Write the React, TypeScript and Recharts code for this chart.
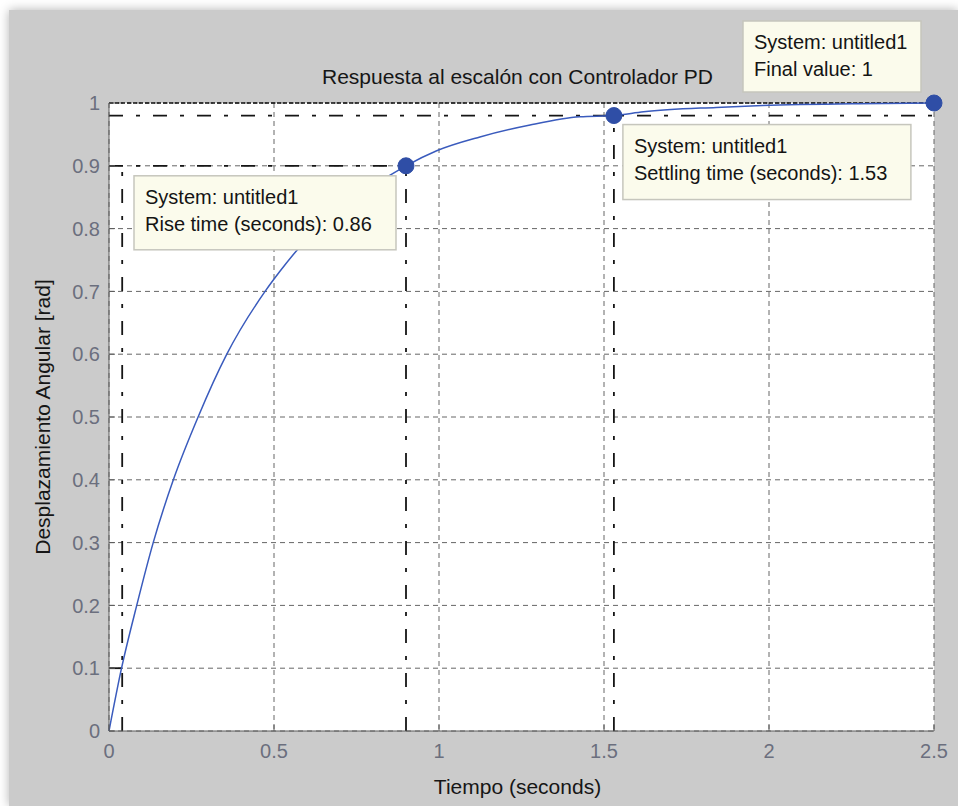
import {
  LineChart,
  Line,
  XAxis,
  YAxis,
  CartesianGrid,
  ReferenceLine,
  ReferenceDot,
} from 'recharts';

// step response samples
const timeS = [
  0, 0.038, 0.084, 0.134, 0.195, 0.27, 0.357, 0.473, 0.518, 0.567, 0.852, 0.9,
  0.993, 1.124, 1.276, 1.427, 1.53, 1.62, 1.84, 1.98, 2.27, 2.5,
];
const response = [
  0, 0.1, 0.2, 0.3, 0.4, 0.5, 0.6, 0.7, 0.732, 0.764, 0.885, 0.9,
  0.924, 0.946, 0.965, 0.978, 0.98, 0.986, 0.993, 0.996, 0.999, 1.0,
];

const xTicks = [0, 0.5, 1, 1.5, 2, 2.5];
const yTicks = [0, 0.1, 0.2, 0.3, 0.4, 0.5, 0.6, 0.7, 0.8, 0.9, 1];

const systemName = 'untitled1';
const riseLow = 0.1;
const riseHigh = 0.9;
const riseStart = 0.04;
const riseEnd = 0.9;
const settleBand = 0.98;
const settleTime = 1.53;
const finalValue = 1;
const endTime = 2.5;

const data = timeS.map((t, i) => ({ t, y: response[i] }));

const font = '"Liberation Sans", Arial, sans-serif';
const tickStyle = { fill: '#6b6f7e', fontSize: 20, fontFamily: font };
const axisStroke = '#5c5c5c';
const markerBlue = '#2f4ea6';
const dashDot = '14 13 4 13';

// data tip box anchored to a marker, offset from its centre
function tipLabel(lines: string[], dx: number, dy: number, w: number, h: number) {
  return (props: any) => {
    const vb = props.viewBox || { x: 0, y: 0, width: 0, height: 0 };
    const x = vb.x + vb.width / 2 + dx;
    const y = vb.y + vb.height / 2 + dy;
    return (
      <g>
        <rect x={x} y={y} width={w} height={h} fill="#fbfbec" stroke="#c6c6bd" strokeWidth={1.5} />
        {lines.map((s, i) => (
          <text
            key={i}
            x={x + 11}
            y={y + 28 + i * 27}
            fontSize={20}
            fontFamily={font}
            fill="#141414"
          >
            {s}
          </text>
        ))}
      </g>
    );
  };
}

export default function App() {
  return (
    <div style={{ position: 'absolute', left: 0, top: 0, width: 958, height: 806, background: '#fff' }}>
      <div
        style={{
          position: 'absolute',
          left: 9,
          top: 10,
          width: 949,
          height: 796,
          background: '#cbcbcb',
          boxShadow: '0 0 10px rgba(0,0,0,0.3)',
        }}
      />
      <div
        style={{
          position: 'absolute',
          left: 105,
          top: 65,
          width: 825,
          textAlign: 'center',
          fontFamily: font,
          fontSize: 21,
          lineHeight: '24px',
          color: '#161616',
        }}
      >
        Respuesta al escalón con Controlador PD
      </div>
      <div style={{ position: 'absolute', left: 0, top: 0 }}>
        <LineChart
          width={958}
          height={806}
          data={data}
          margin={{ top: 103, right: 24, bottom: 45, left: 49 }}
        >
          <CartesianGrid
            fill="#ffffff"
            stroke="#666666"
            strokeDasharray="5 4"
            horizontalValues={yTicks}
            verticalValues={xTicks}
          />
          <XAxis
            dataKey="t"
            type="number"
            domain={[0, endTime]}
            ticks={xTicks}
            height={30}
            tickSize={-6}
            tickMargin={19}
            tick={tickStyle}
            axisLine={{ stroke: axisStroke }}
            tickLine={{ stroke: axisStroke }}
            label={{
              value: 'Tiempo (seconds)',
              position: 'bottom',
              offset: 18,
              dx: -4,
              style: { fill: '#161616', fontSize: 21, fontFamily: font },
            }}
          />
          <XAxis
            xAxisId="top"
            orientation="top"
            dataKey="t"
            type="number"
            domain={[0, endTime]}
            ticks={xTicks}
            height={0}
            tickSize={-6}
            tickFormatter={() => ''}
            axisLine={{ stroke: axisStroke }}
            tickLine={{ stroke: axisStroke }}
          />
          <YAxis
            type="number"
            domain={[0, 1]}
            ticks={yTicks}
            width={60}
            tickSize={-6}
            tickMargin={15}
            tick={tickStyle}
            axisLine={{ stroke: axisStroke }}
            tickLine={{ stroke: axisStroke }}
            label={{
              value: 'Desplazamiento Angular [rad]',
              angle: -90,
              position: 'left',
              offset: 6,
              style: { fill: '#161616', fontSize: 21, fontFamily: font, textAnchor: 'middle' },
            }}
          />
          <YAxis
            yAxisId="right"
            orientation="right"
            type="number"
            domain={[0, 1]}
            ticks={yTicks}
            width={0}
            tickSize={-6}
            tickFormatter={() => ''}
            axisLine={{ stroke: axisStroke }}
            tickLine={{ stroke: axisStroke }}
          />

          {/* final value and settling band */}
          <ReferenceLine y={finalValue} stroke="#111" strokeDasharray="4 2" strokeWidth={1.5} />
          <ReferenceLine y={settleBand} stroke="#151515" strokeDasharray={dashDot} strokeWidth={1.8} />
          <ReferenceLine
            segment={[{ x: settleTime, y: 0 }, { x: settleTime, y: settleBand }]}
            stroke="#151515"
            strokeDasharray={dashDot}
            strokeWidth={1.8}
          />

          {/* rise time guides */}
          <ReferenceLine
            segment={[{ x: 0, y: riseHigh }, { x: riseEnd, y: riseHigh }]}
            stroke="#151515"
            strokeDasharray={dashDot}
            strokeWidth={1.8}
          />
          <ReferenceLine
            segment={[{ x: 0, y: riseLow }, { x: riseStart, y: riseLow }]}
            stroke="#151515"
            strokeWidth={1.8}
          />
          <ReferenceLine
            segment={[{ x: riseStart, y: 0 }, { x: riseStart, y: riseHigh }]}
            stroke="#151515"
            strokeDasharray={dashDot}
            strokeWidth={1.8}
          />
          <ReferenceLine
            segment={[{ x: riseEnd, y: 0 }, { x: riseEnd, y: riseHigh }]}
            stroke="#151515"
            strokeDasharray={dashDot}
            strokeWidth={1.8}
          />

          <Line
            type="monotone"
            dataKey="y"
            stroke="#3a5bbd"
            strokeWidth={1.5}
            dot={false}
            isAnimationActive={false}
          />

          <ReferenceDot
            x={riseEnd}
            y={riseHigh}
            r={8}
            fill={markerBlue}
            stroke={markerBlue}
            label={tipLabel(
              [`System: ${systemName}`, `Rise time (seconds): ${(riseEnd - riseStart).toFixed(2)}`],
              -272,
              10,
              262,
              74,
            )}
          />
          <ReferenceDot
            x={settleTime}
            y={settleBand}
            r={8}
            fill={markerBlue}
            stroke={markerBlue}
            label={tipLabel(
              [`System: ${systemName}`, `Settling time (seconds): ${settleTime.toFixed(2)}`],
              9,
              9,
              288,
              75,
            )}
          />
          <ReferenceDot
            x={endTime}
            y={finalValue}
            r={8}
            fill={markerBlue}
            stroke={markerBlue}
            label={tipLabel([`System: ${systemName}`, `Final value: ${finalValue}`], -191, -82, 178, 71)}
          />
        </LineChart>
      </div>
    </div>
  );
}
